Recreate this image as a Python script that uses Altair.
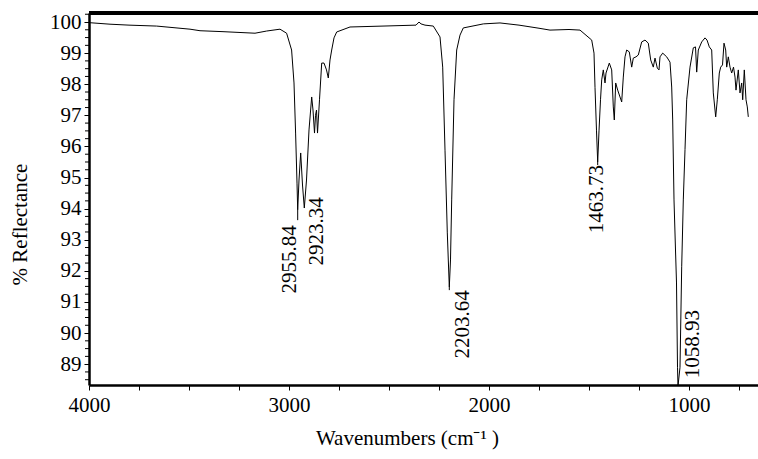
import altair as alt
import pandas as pd

# Spectrum (wavenumber cm-1, % reflectance)
wavenumber = [4000, 3895, 3800, 3662, 3495, 3445, 3330, 3170, 3112, 3045, 3012, 2987, 2975, 2967, 2960,
              2956.5, 2950, 2941.5, 2932.5, 2923.5, 2912.5, 2900, 2886.5, 2880, 2872.5, 2867.5, 2862.5,
              2857.5, 2847.5, 2836.5, 2825, 2812.5, 2803.5, 2795, 2786.5, 2775, 2761.5, 2695, 2530, 2420,
              2365, 2350, 2340, 2320, 2278.5, 2245, 2231.5, 2220, 2208.5, 2198.5, 2192.5, 2186.5, 2175,
              2161.5, 2145, 2128.5, 2028, 1945, 1850, 1750, 1695, 1600, 1545, 1486.5, 1475, 1470, 1462.5,
              1456.5, 1450, 1442.5, 1436.5, 1428.5, 1420, 1415, 1398.5, 1386.5, 1378.5, 1373.5, 1366.5,
              1356.5, 1345, 1336.5, 1328.5, 1320, 1311.5, 1298.5, 1286.5, 1278.5, 1265, 1253.5, 1236.5,
              1220, 1203.5, 1191.5, 1178.5, 1170, 1158.5, 1150, 1145, 1131.5, 1111.5, 1095, 1086.5, 1081.5,
              1075, 1062.5, 1057.5, 1055, 1045, 1036.5, 1028.5, 1020, 1011.5, 995, 978.5, 967.5, 961.5,
              953.5, 936.5, 920, 910, 898.5, 886.5, 878.5, 866.5, 858.5, 848.5, 841.5, 832.5, 825, 816.5,
              811.5, 803.5, 795, 786.5, 777.5, 770, 765, 753.5, 745, 736.5, 731.5, 723.5, 715, 708.5, 703.5]
reflectance = [99.98, 99.93, 99.9, 99.87, 99.77, 99.72, 99.69, 99.64, 99.71, 99.77, 99.64, 99.1, 98.04, 96.43, 94.82,
               93.96, 94.92, 95.79, 94.76, 94.02, 94.92, 96.53, 97.59, 97.17, 96.43, 97.0, 97.17,
               96.43, 97.5, 98.68, 98.68, 98.46, 98.2, 98.78, 99.1, 99.49, 99.68, 99.84, 99.87, 99.89,
               99.9, 100.0, 99.94, 99.9, 99.87, 99.52, 98.55, 95.88, 93.22, 91.48, 92.35, 94.28, 97.5,
               99.1, 99.58, 99.81, 99.94, 99.97, 99.9, 99.8, 99.74, 99.76, 99.74, 99.42, 99.0, 97.9, 96.5,
               95.5, 96.5, 97.5, 98.14, 98.46, 98.04, 98.36, 98.68, 98.46, 97.27, 96.85, 98.04,
               97.81, 97.59, 97.43, 98.23, 98.88, 99.1, 99.04, 98.55, 98.84, 98.88, 98.94, 99.36,
               99.42, 99.32, 98.78, 98.55, 98.84, 98.52, 98.46, 98.88, 99.0, 98.88, 98.71, 97.91, 96.85,
               94.28, 91.61, 88.9, 88.3, 88.9, 92.13, 94.28, 95.9, 97.5, 98.55, 99.17, 99.2, 98.39,
               99.1, 99.36, 99.49, 99.42, 99.2, 99.1, 97.72, 96.95, 97.5, 98.36, 98.55, 98.62, 99.32, 99.1,
               98.55, 98.88, 98.55, 98.36, 98.55, 98.23, 97.81, 98.46, 97.72, 98.04, 97.5, 98.46, 97.5, 97.27, 96.95]

# Peak annotations
peak_labels = ["2955.84", "2923.34", "2203.64", "1463.73", "1058.93"]
label_x = [2995, 2860, 2130, 1460, 980]
label_y = [93.47, 94.37, 91.38, 95.40, 90.74]

marker_x = [2956.5, 2198.5, 1456.5]
marker_top = [93.96, 91.48, 95.5]
marker_bottom = [93.63, 91.38, 95.40]

y_major = list(range(89, 101))
y_minor = [v / 4 for v in range(89 * 4 - 2, 100 * 4 + 2) if v % 4 != 0]
x_ticks = list(range(750, 4001, 250))

X_DOMAIN = [655, 4000]
Y_DOMAIN = [88.33, 100.29]
W, H = 669, 372
FONT = "Liberation Serif"

spec = pd.DataFrame({"wn": wavenumber, "r": reflectance})
labels = pd.DataFrame({"t": peak_labels, "x": label_x, "y": label_y})
markers = pd.DataFrame({"x": marker_x, "y": marker_top, "y2": marker_bottom})
minor = pd.DataFrame({"y": y_minor})

xscale = alt.Scale(domain=X_DOMAIN, reverse=True, nice=False, zero=False)
yscale = alt.Scale(domain=Y_DOMAIN, nice=False, zero=False)

xaxis = alt.Axis(values=x_ticks, title="Wavenumbers (cm⁻¹ )",
                 labelExpr="datum.value % 1000 == 0 ? datum.label : ''",
                 tickSize=5, labelPadding=4, titlePadding=12, format="d",
                 labelFlush=False, labelOverlap=False, titleX=318)
yaxis = alt.Axis(values=y_major, title="% Reflectance", tickSize=5,
                 labelPadding=3, titlePadding=19, format="d",
                 labelFlush=False, labelOverlap=False, titleY=211)

line = alt.Chart(spec).mark_line(color="black", strokeWidth=1, clip=True).encode(
    x=alt.X("wn:Q", scale=xscale, axis=xaxis),
    y=alt.Y("r:Q", scale=yscale, axis=yaxis),
)

minor_ticks = alt.Chart(minor).mark_rule(color="black", strokeWidth=1).encode(
    y=alt.Y("y:Q", scale=yscale, axis=yaxis), x=alt.value(-4), x2=alt.value(0)
)

top_frame = alt.Chart(minor).mark_rule(color="black", strokeWidth=2.5).encode(
    x=alt.value(0), x2=alt.value(W), y=alt.value(0)
)

marks = alt.Chart(markers).mark_rule(color="black", strokeWidth=1).encode(
    x=alt.X("x:Q", scale=xscale, axis=xaxis), y=alt.Y("y:Q", scale=yscale, axis=yaxis), y2="y2:Q"
)

text = alt.Chart(labels).mark_text(angle=270, align="right", baseline="middle",
                                   font=FONT, fontSize=21, color="black").encode(
    x=alt.X("x:Q", scale=xscale, axis=xaxis), y=alt.Y("y:Q", scale=yscale, axis=yaxis), text="t:N"
)

chart = alt.layer(line, minor_ticks, marks, text, top_frame).properties(
    width=W, height=H,
    autosize=alt.AutoSizeParams(type="none"),
    padding={"left": 89, "top": 13, "right": 0, "bottom": 74},
    background="white",
).configure_view(stroke=None).configure_axis(
    labelFont=FONT, labelFontSize=21, labelColor="black", labelOverlap=False,
    titleFont=FONT, titleFontSize=21, titleColor="black", titleFontWeight="normal",
    domainColor="black", domainWidth=2.5, tickColor="black", tickWidth=1, grid=False,
)

chart.save("out.html", embed_options={"renderer": "svg", "actions": False})
